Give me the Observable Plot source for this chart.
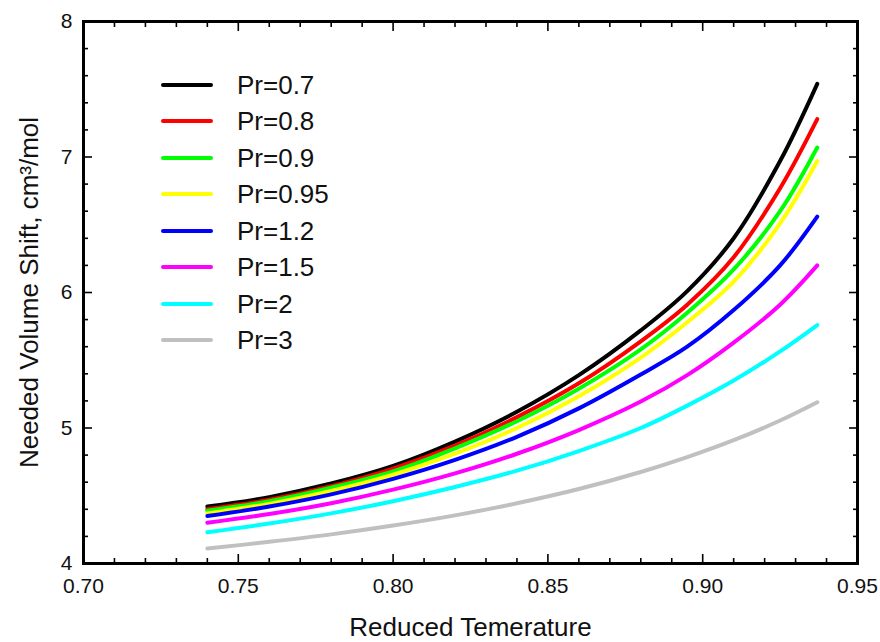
<!DOCTYPE html>
<html>
<head>
<meta charset="utf-8">
<script src="https://cdn.jsdelivr.net/npm/d3@7"></script>
<script src="https://cdn.jsdelivr.net/npm/@observablehq/plot@0.6"></script>
<style>
  html, body { margin: 0; padding: 0; background: #fff; }
  #wrap { position: relative; width: 880px; height: 642px; font-family: "Liberation Sans", Arial, sans-serif; }
  #legend { position: absolute; left: 0; top: 0; }
  .row { position: absolute; left: 161px; height: 0; }
  .sw { position: absolute; left: 0; top: -2px; width: 52px; height: 4px; border-radius: 2px; }
  .lb { position: absolute; left: 76px; top: -15px; font-size: 26px; line-height: 30px; white-space: nowrap; color: #111; }
</style>
</head>
<body>
<div id="wrap"><div id="legend"></div></div>
<script>
// Reduced temperature (x)
const reducedTemp = [0.74, 0.76, 0.78, 0.80, 0.82, 0.84, 0.86, 0.88, 0.895, 0.91, 0.925, 0.937];
// Needed volume shift (cm3/mol) for each reduced pressure
const pr07  = [4.42, 4.49, 4.59, 4.72, 4.90, 5.12, 5.39, 5.72, 6.01, 6.40, 6.97, 7.54];
const pr08  = [4.40, 4.47, 4.57, 4.70, 4.87, 5.08, 5.33, 5.64, 5.91, 6.26, 6.77, 7.28];
const pr09  = [4.39, 4.46, 4.56, 4.68, 4.85, 5.05, 5.29, 5.58, 5.85, 6.17, 6.60, 7.07];
const pr095 = [4.37, 4.44, 4.535, 4.655, 4.81, 5.00, 5.235, 5.52, 5.78, 6.08, 6.51, 6.97];
const pr12  = [4.35, 4.42, 4.51, 4.625, 4.765, 4.935, 5.145, 5.395, 5.60, 5.87, 6.20, 6.56];
const pr15  = [4.30, 4.365, 4.445, 4.545, 4.665, 4.81, 4.985, 5.195, 5.39, 5.63, 5.91, 6.20];
const pr2   = [4.23, 4.295, 4.37, 4.46, 4.565, 4.685, 4.83, 5.00, 5.165, 5.35, 5.565, 5.76];
const pr3   = [4.11, 4.16, 4.215, 4.28, 4.355, 4.445, 4.55, 4.675, 4.785, 4.91, 5.055, 5.19];

const seriesNames = ["Pr=0.7", "Pr=0.8", "Pr=0.9", "Pr=0.95", "Pr=1.2", "Pr=1.5", "Pr=2", "Pr=3"];
const seriesValues = [pr07, pr08, pr09, pr095, pr12, pr15, pr2, pr3];
const seriesColors = ["#000000", "#ff0000", "#00ff00", "#ffff00", "#0000ff", "#ff00ff", "#00ffff", "#c0c0c0"];

const xMajor = [0.70, 0.75, 0.80, 0.85, 0.90, 0.95];
const xMinor = [0.71, 0.72, 0.73, 0.74, 0.76, 0.77, 0.78, 0.79, 0.81, 0.82, 0.83, 0.84, 0.86, 0.87, 0.88, 0.89, 0.91, 0.92, 0.93, 0.94];
const yMajor = [4, 5, 6, 7, 8];
const yMinor = [4.2, 4.4, 4.6, 4.8, 5.2, 5.4, 5.6, 5.8, 6.2, 6.4, 6.6, 6.8, 7.2, 7.4, 7.6, 7.8];

const rows = [];
seriesNames.forEach((name, s) => {
  reducedTemp.forEach((t, i) => rows.push({series: name, t, v: seriesValues[s][i]}));
});

const tickStyle = {stroke: "black", strokeWidth: 1.6, fill: "none", label: null};

const chart = Plot.plot({
  width: 880,
  height: 642,
  marginLeft: 83,
  marginRight: 23,
  marginTop: 21,
  marginBottom: 79,
  style: {fontFamily: "'Liberation Sans', Arial, sans-serif", color: "#111", background: "white"},
  x: {domain: [0.70, 0.95]},
  y: {domain: [4, 8]},
  color: {domain: seriesNames, range: seriesColors},
  marks: [
    // inward ticks on all four sides
    Plot.axisX(xMajor, {...tickStyle, anchor: "bottom", tickSize: -9}),
    Plot.axisX(xMinor, {...tickStyle, anchor: "bottom", tickSize: -5}),
    Plot.axisX(xMajor, {...tickStyle, anchor: "top", tickSize: -9}),
    Plot.axisX(xMinor, {...tickStyle, anchor: "top", tickSize: -5}),
    Plot.axisY(yMajor, {...tickStyle, anchor: "left", tickSize: -9}),
    Plot.axisY(yMinor, {...tickStyle, anchor: "left", tickSize: -5}),
    Plot.axisY(yMajor, {...tickStyle, anchor: "right", tickSize: -9}),
    Plot.axisY(yMinor, {...tickStyle, anchor: "right", tickSize: -5}),
    // tick labels
    Plot.axisX(xMajor, {anchor: "bottom", tickSize: 0, tickPadding: 15, tickFormat: d3.format(".2f"), fontSize: 21, label: null}),
    Plot.axisY(yMajor, {anchor: "left", tickSize: 0, tickPadding: 11, tickFormat: d3.format("d"), fontSize: 21, label: null}),
    // axis titles
    Plot.axisX([], {anchor: "bottom", tickSize: 0, label: "Reduced Temerature", labelAnchor: "center", labelArrow: "none", labelOffset: 72, fontSize: 26}),
    Plot.axisY([], {anchor: "left", tickSize: 0, label: "Needed Volume Shift, cm³/mol", labelAnchor: "center", labelArrow: "none", labelOffset: 64, fontSize: 26}),
    Plot.line(rows, {x: "t", y: "v", z: "series", stroke: "series", strokeWidth: 4, curve: "catmull-rom"}),
    Plot.frame({stroke: "black", strokeWidth: 3})
  ]
});
const wrap = document.getElementById("wrap");
wrap.insertBefore(chart, wrap.firstChild);

// legend overlay
const legend = document.getElementById("legend");
seriesNames.forEach((name, i) => {
  const row = document.createElement("div");
  row.className = "row";
  row.style.top = (84.5 + i * 36.5) + "px";
  row.innerHTML = `<div class="sw" style="background:${seriesColors[i]}"></div><div class="lb">${name}</div>`;
  legend.appendChild(row);
});
</script>
</body>
</html>
